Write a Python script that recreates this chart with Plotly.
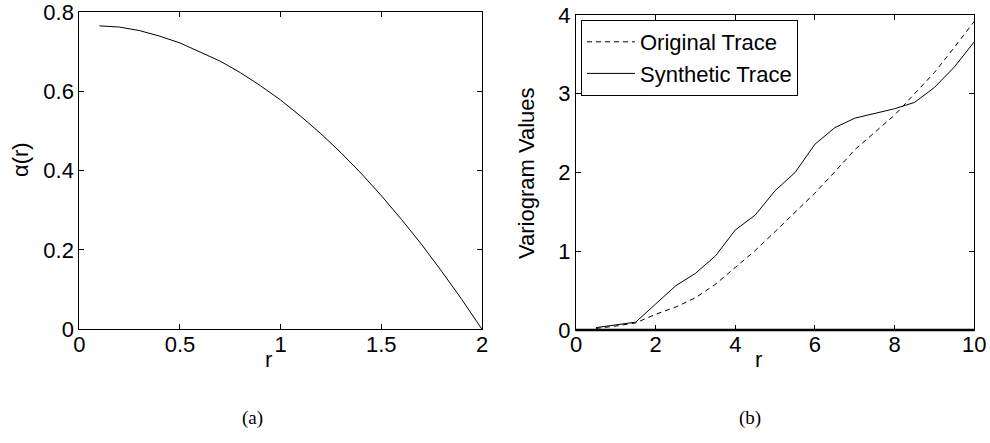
import plotly.graph_objects as go

# ---- data ----
r_alpha = [0.1, 0.2, 0.3, 0.4, 0.5, 0.6, 0.7, 0.8, 0.9, 1.0,
           1.1, 1.2, 1.3, 1.4, 1.5, 1.6, 1.7, 1.8, 1.9, 2.0]
alpha_vals = [0.765, 0.762, 0.753, 0.739, 0.722, 0.700, 0.676, 0.647, 0.614, 0.578,
              0.537, 0.493, 0.445, 0.393, 0.337, 0.277, 0.214, 0.146, 0.075, 0.0]

r_vario = [0.5, 1.0, 1.5, 2.0, 2.5, 3.0, 3.5, 4.0, 4.5, 5.0,
           5.5, 6.0, 6.5, 7.0, 7.5, 8.0, 8.5, 9.0, 9.5, 10.0]
original_trace = [0.02, 0.05, 0.09, 0.20, 0.29, 0.41, 0.58, 0.79, 1.01, 1.25,
                  1.49, 1.74, 2.01, 2.29, 2.51, 2.73, 3.00, 3.27, 3.59, 3.92]
synthetic_trace = [0.03, 0.065, 0.10, 0.33, 0.56, 0.72, 0.94, 1.27, 1.46, 1.77,
                   2.00, 2.36, 2.57, 2.69, 2.75, 2.81, 2.89, 3.08, 3.34, 3.66]

left_xticks = [0, 0.5, 1, 1.5, 2]
left_yticks = [0, 0.2, 0.4, 0.6, 0.8]
right_xticks = [0, 2, 4, 6, 8, 10]
right_yticks = [0, 1, 2, 3, 4]

W, H = 990, 443
FONT = "Liberation Sans, Arial, sans-serif"
FS = 22

# panel boxes in pixels
L_X0, L_X1, L_Y0, L_Y1 = 79.3, 482.0, 12.0, 329.3
R_X0, R_X1, R_Y0, R_Y1 = 576.0, 974.3, 15.0, 330.0

fig = go.Figure()

fig.add_trace(go.Scatter(x=r_alpha, y=alpha_vals, mode="lines",
                         line=dict(color="black", width=1),
                         showlegend=False, xaxis="x", yaxis="y"))
fig.add_trace(go.Scatter(x=r_vario, y=original_trace, mode="lines",
                         name="Original Trace",
                         line=dict(color="black", width=1, dash="5px,4px"),
                         xaxis="x2", yaxis="y2"))
fig.add_trace(go.Scatter(x=r_vario, y=synthetic_trace, mode="lines",
                         name="Synthetic Trace",
                         line=dict(color="black", width=1),
                         xaxis="x2", yaxis="y2"))

axis_common = dict(showline=True, linecolor="black", linewidth=1, mirror="ticks",
                   ticks="inside", ticklen=5, tickcolor="black", tickwidth=1,
                   showgrid=False, zeroline=False, automargin=False,
                   ticklabeloverflow="allow",
                   tickfont=dict(family=FONT, size=FS, color="black"))

fig.update_layout(
    width=W, height=H,
    margin=dict(l=0, r=0, t=0, b=0, autoexpand=False),
    paper_bgcolor="white", plot_bgcolor="white",
    font=dict(family=FONT, size=FS, color="black"),
    xaxis=dict(domain=[L_X0 / W, L_X1 / W], anchor="y", range=[0, 2],
               tickvals=left_xticks, ticktext=["0", "0.5", "1", "1.5", "2"],
               ticklabelstandoff=-5, **axis_common),
    yaxis=dict(domain=[1 - L_Y1 / H, 1 - L_Y0 / H], anchor="x", range=[0, 0.8],
               tickvals=left_yticks, ticktext=["0", "0.2", "0.4", "0.6", "0.8"],
               **axis_common),
    xaxis2=dict(domain=[R_X0 / W, R_X1 / W], anchor="y2", range=[0, 10],
                tickvals=right_xticks, ticklabelstandoff=-5, **axis_common),
    yaxis2=dict(domain=[1 - R_Y1 / H, 1 - R_Y0 / H], anchor="x2", range=[0, 4],
                tickvals=right_yticks, **axis_common),
    legend=dict(x=581 / W, y=1 - 20 / H, xanchor="left", yanchor="top",
                bgcolor="white", bordercolor="black", borderwidth=1,
                font=dict(family=FONT, size=FS, color="black"),
                tracegroupgap=0, itemwidth=48),
    showlegend=True,
)

# thicker bottom edge on the right panel, as in the reference
fig.add_shape(type="line", xref="paper", yref="paper",
              x0=R_X0 / W, x1=R_X1 / W, y0=1 - R_Y1 / H, y1=1 - R_Y1 / H,
              line=dict(color="black", width=2.5))

def label(text, px, py, angle=0, family=FONT, size=FS):
    fig.add_annotation(text=text, x=px / W, y=1 - py / H, xref="paper", yref="paper",
                       xanchor="center", yanchor="middle", showarrow=False,
                       textangle=angle, font=dict(family=family, size=size, color="black"))

# axis titles
label("r", 268, 359)
label("α(r)", 21, 160, angle=-90)
label("r", 758, 359)
label("Variogram Values", 527, 173, angle=-90)

# panel captions
label("(a)", 252.5, 418, family="Liberation Serif, serif", size=19)
label("(b)", 750, 418, family="Liberation Serif, serif", size=19)

fig.write_html("out.html", config={"displayModeBar": False},
               post_script="document.body.style.margin='0';document.body.style.overflow='hidden';")
